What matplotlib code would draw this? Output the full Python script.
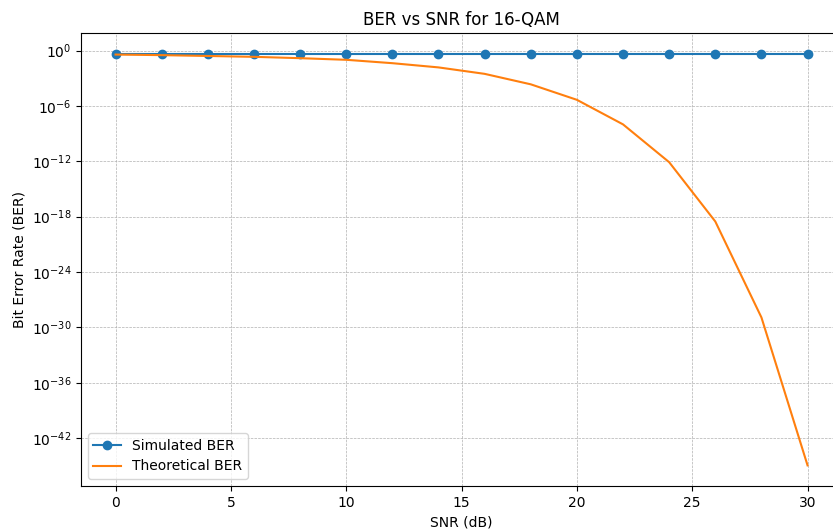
import matplotlib
matplotlib.use('Agg')
import matplotlib.pyplot as plt
import numpy as np

snr_db = [0, 2, 4, 6, 8, 10, 12, 14, 16, 18, 20, 22, 24, 26, 28, 30]
ber_simulated = [0.47, 0.47, 0.47, 0.47, 0.47, 0.47, 0.47, 0.47,
                 0.47, 0.47, 0.47, 0.47, 0.47, 0.47, 0.47, 0.47]
ber_theoretical = [0.37, 0.32, 0.26, 0.21, 0.15, 0.10, 0.043, 0.015,
                   3.0e-3, 2.2e-4, 4.6e-6, 1.0e-8, 8.0e-13, 3.0e-19,
                   1.2e-29, 1.1e-45]

fig = plt.figure(figsize=(8.33, 5.29), dpi=100)
ax = fig.add_axes([0.0972, 0.0813, 0.9138, 0.8563])

ax.semilogy(snr_db, ber_simulated, 'o-', label='Simulated BER')
ax.semilogy(snr_db, ber_theoretical, '-', label='Theoretical BER')

ax.set_title('BER vs SNR for 16-QAM')
ax.set_xlabel('SNR (dB)')
ax.set_ylabel('Bit Error Rate (BER)')
ax.grid(True, which='both', linestyle='--', linewidth=0.5)
ax.legend(loc='lower left')

fig.savefig('out.png', dpi=100)
